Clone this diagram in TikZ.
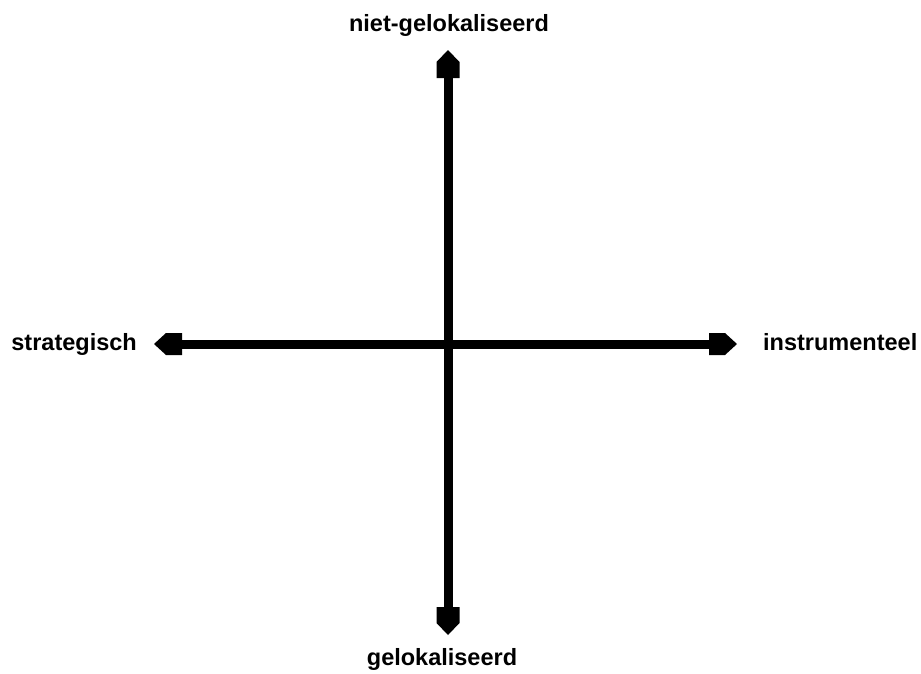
\documentclass[tikz,border=0pt]{standalone}
\usepackage{fontspec}
\setmainfont{Liberation Sans}
\begin{document}
\begin{tikzpicture}[x=1pt,y=-1pt,
  lbl/.style={inner sep=0pt,font=\fontsize{23.5}{28}\selectfont\bfseries},
  shaft/.style={line width=9pt,black},
  head/.style={fill=black}]
\useasboundingbox[fill=white] (0,0) rectangle (921,673);
% endpoints
\coordinate (T) at (448,78);
\coordinate (B) at (448,607);
\coordinate (L) at (182,344);
\coordinate (R) at (709,344);
\draw[shaft] (T) -- (B);
\draw[shaft] (L) -- (R);
% heads
\fill[head] (T) ++(-11.5,0) -- ++(0,-16) -- (448,50) -- (459.5,62) -- (459.5,78) -- cycle;
\fill[head] (B) ++(-11.5,0) -- ++(0,16) -- (448,635) -- (459.5,623) -- (459.5,607) -- cycle;
\fill[head] (L) ++(0,-11) -- ++(-16,0) -- (154,344) -- (166,355) -- (182,355) -- cycle;
\fill[head] (R) ++(0,-11) -- ++(16,0) -- (737,344) -- (725,355) -- (709,355) -- cycle;
% labels
\node[lbl,anchor=base] (top) at (449,31) {niet-gelokaliseerd};
\node[lbl,anchor=base] (bot) at (442,665) {gelokaliseerd};
\node[lbl,anchor=base east] (lft) at (137,350) {strategisch};
\node[lbl,anchor=base west] (rgt) at (763,350) {instrumenteel};
\end{tikzpicture}
\end{document}
